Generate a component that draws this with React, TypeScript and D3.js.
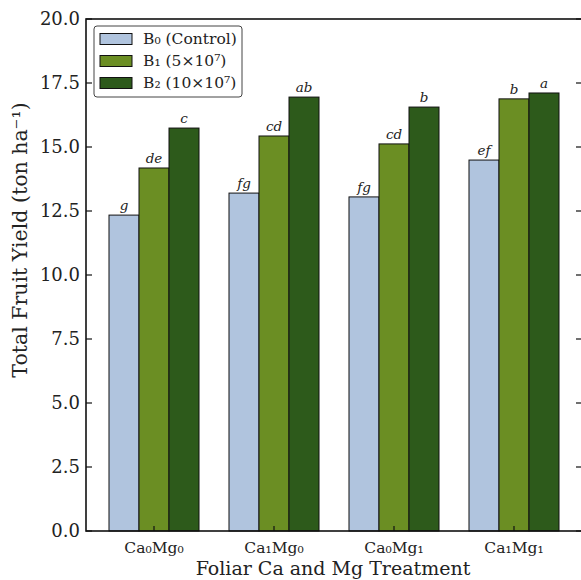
// @ts-nocheck
import * as d3 from "d3";
import { useRef, useEffect } from "react";

const treatments = ["Ca₀Mg₀", "Ca₁Mg₀", "Ca₀Mg₁", "Ca₁Mg₁"];
const seriesNames = ["B₀ (Control)", "B₁ (5×10⁷)", "B₂ (10×10⁷)"];
const seriesColors = ["#b0c4de", "#6b8e23", "#2d5a1b"];
const b0Values = [12.34, 13.2, 13.05, 14.49];
const b1Values = [14.18, 15.43, 15.12, 16.88];
const b2Values = [15.74, 16.95, 16.56, 17.11];
const b0Letters = ["g", "fg", "fg", "ef"];
const b1Letters = ["de", "cd", "cd", "b"];
const b2Letters = ["c", "ab", "b", "a"];
const yTicks = [0, 2.5, 5, 7.5, 10, 12.5, 15, 17.5, 20];

export default function App() {
  const svgRef = useRef();

  useEffect(() => {
    const width = 581;
    const height = 580;
    const left = 86;
    const right = 582;
    const top = 19;
    const bottom = 531;
    const font = "DejaVu Serif, serif";

    const svg = d3.select(svgRef.current);
    svg.selectAll("*").remove();
    svg.attr("width", width).attr("height", height);

    const x = d3.scalePoint().domain(treatments).range([left, right]).padding(0.5667);
    const y = d3.scaleLinear().domain([0, 20]).range([bottom, top]);
    const barW = 30;

    const series = [b0Values, b1Values, b2Values];
    const letters = [b0Letters, b1Letters, b2Letters];

    series.forEach((vals, s) => {
      const g = svg.append("g");
      treatments.forEach((t, i) => {
        const cx = x(t);
        const bx = cx - 1.5 * barW + s * barW;
        g.append("rect")
          .attr("x", bx)
          .attr("y", y(vals[i]))
          .attr("width", barW)
          .attr("height", bottom - y(vals[i]))
          .attr("fill", seriesColors[s])
          .attr("stroke", "#111")
          .attr("stroke-width", 1);
        g.append("text")
          .attr("x", bx + barW / 2)
          .attr("y", y(vals[i]) - 5)
          .attr("text-anchor", "middle")
          .attr("font-family", font)
          .attr("font-style", "italic")
          .attr("font-size", 13.5)
          .attr("fill", "#222")
          .text(letters[s][i]);
      });
    });

    // frame
    svg.append("rect")
      .attr("x", left).attr("y", top)
      .attr("width", right - left).attr("height", bottom - top)
      .attr("fill", "none").attr("stroke", "#111").attr("stroke-width", 1.6);

    // y ticks (inward, both sides)
    yTicks.forEach((v) => {
      svg.append("line").attr("x1", left).attr("x2", left + 6).attr("y1", y(v)).attr("y2", y(v)).attr("stroke", "#111").attr("stroke-width", 1.2);
      svg.append("line").attr("x1", right - 6).attr("x2", right).attr("y1", y(v)).attr("y2", y(v)).attr("stroke", "#111").attr("stroke-width", 1.2);
      svg.append("text")
        .attr("x", left - 6)
        .attr("y", y(v))
        .attr("dy", "0.36em")
        .attr("text-anchor", "end")
        .attr("font-family", font)
        .attr("font-size", 18)
        .attr("fill", "#222")
        .text(d3.format(".1f")(v));
    });

    // x ticks
    treatments.forEach((t) => {
      const cx = x(t);
      svg.append("line").attr("x1", cx).attr("x2", cx).attr("y1", bottom).attr("y2", bottom - 5).attr("stroke", "#111").attr("stroke-width", 1.2);
      svg.append("text")
        .attr("x", cx)
        .attr("y", bottom + 22)
        .attr("text-anchor", "middle")
        .attr("font-family", font)
        .attr("font-size", 15.5)
        .attr("fill", "#222")
        .text(t);
    });

    svg.append("text")
      .attr("x", 333)
      .attr("y", 575)
      .attr("text-anchor", "middle")
      .attr("font-family", font)
      .attr("font-size", 19)
      .attr("fill", "#222")
      .text("Foliar Ca and Mg Treatment");

    svg.append("text")
      .attr("transform", "translate(27,240) rotate(-90)")
      .attr("text-anchor", "middle")
      .attr("font-family", font)
      .attr("font-size", 20.5)
      .attr("fill", "#222")
      .text("Total Fruit Yield (ton ha⁻¹)");

    // legend
    const lg = svg.append("g").attr("transform", "translate(94,26)");
    lg.append("rect").attr("width", 148).attr("height", 71).attr("rx", 3)
      .attr("fill", "white").attr("fill-opacity", 0.9).attr("stroke", "#444").attr("stroke-width", 1);
    seriesNames.forEach((n, i) => {
      const ry = 13 + i * 22;
      lg.append("rect").attr("x", 6).attr("y", ry - 5.5).attr("width", 32).attr("height", 11)
        .attr("fill", seriesColors[i]).attr("stroke", "#111").attr("stroke-width", 1);
      lg.append("text").attr("x", 49).attr("y", ry).attr("dy", "0.35em")
        .attr("font-family", font).attr("font-size", 15.5).attr("fill", "#222").text(n);
    });
  }, []);

  return <svg ref={svgRef} style={{ position: "fixed", left: 0, top: 0, background: "white" }}></svg>;
}
